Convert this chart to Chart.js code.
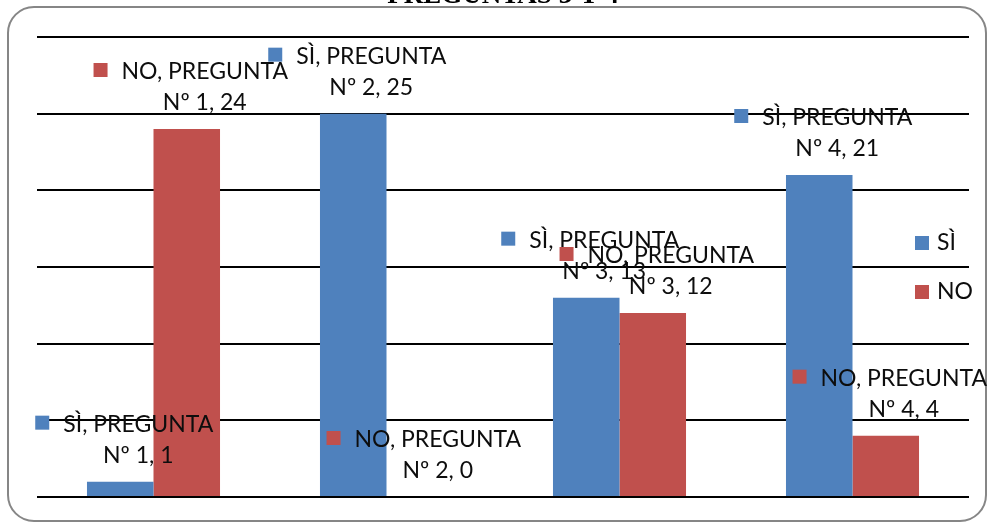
<!DOCTYPE html>
<html>
<head>
<meta charset="utf-8">
<script src="https://cdn.jsdelivr.net/npm/chart.js@4.4.1/dist/chart.umd.min.js"></script>
<style>
  html, body { margin: 0; padding: 0; background: #fff; }
  #wrap { position: relative; width: 988px; height: 523px; }
</style>
</head>
<body>
<div id="wrap"><canvas id="c" width="988" height="523"></canvas></div>
<script>
// ---- data ----
const categories = ["PREGUNTA Nº 1", "PREGUNTA Nº 2", "PREGUNTA Nº 3", "PREGUNTA Nº 4"];
const seriesNames = ["SÌ", "NO"];
const siValues = [1, 25, 13, 21];
const noValues = [24, 0, 12, 4];
const yTicks = [0, 5, 10, 15, 20, 25, 30];
const chartTitle = "PREGUNTAS 3 Y 4";

const colors = ["#4F81BD", "#C0504D"];
const labelFont = "23px Lato, 'Liberation Sans', sans-serif";

const framePlugin = {
  id: 'frame',
  beforeDraw(chart) {
    const ctx = chart.ctx;
    ctx.save();
    ctx.fillStyle = '#fff';
    ctx.fillRect(0, 0, chart.width, chart.height);
    ctx.strokeStyle = '#868686';
    ctx.lineWidth = 2;
    const x = 8, y = 7, w = 978, h = 514, r = 26;
    ctx.beginPath();
    ctx.moveTo(x + r, y);
    ctx.lineTo(x + w - r, y);
    ctx.arcTo(x + w, y, x + w, y + r, r);
    ctx.lineTo(x + w, y + h - r);
    ctx.arcTo(x + w, y + h, x + w - r, y + h, r);
    ctx.lineTo(x + r, y + h);
    ctx.arcTo(x, y + h, x, y + h - r, r);
    ctx.lineTo(x, y + r);
    ctx.arcTo(x, y, x + r, y, r);
    ctx.closePath();
    ctx.stroke();
    // title (mostly clipped at the top, as in the reference)
    ctx.fillStyle = '#000';
    ctx.font = "bold 27px 'Liberation Serif', serif";
    ctx.textAlign = 'center';
    ctx.textBaseline = 'alphabetic';
    const ca = chart.chartArea;
    ctx.fillText(chartTitle, (ca.left + ca.right) / 2, 3);
    ctx.restore();
  }
};

const labelPlugin = {
  id: 'barLabels',
  afterDatasetsDraw(chart) {
    const ctx = chart.ctx;
    ctx.save();
    ctx.font = labelFont;
    ctx.textBaseline = 'alphabetic';
    chart.data.datasets.forEach((ds, di) => {
      const meta = chart.getDatasetMeta(di);
      meta.data.forEach((bar, j) => {
        const line1 = ds.label + ", PREGUNTA";
        const line2 = categories[j].replace("PREGUNTA ", "") + ", " + ds.data[j];
        const w1 = ctx.measureText(line1).width;
        const keyW = 14, gap = 14;
        const blockW = keyW + gap + w1;
        const left = bar.x + 4 - blockW / 2;
        const base2 = bar.y - 19;
        const base1 = base2 - 31;
        ctx.fillStyle = ds.backgroundColor;
        ctx.fillRect(left, base1 - 16, keyW, keyW);
        ctx.fillStyle = '#0d0d0d';
        ctx.textAlign = 'left';
        const tl = left + keyW + gap;
        ctx.fillText(line1, tl, base1);
        ctx.textAlign = 'center';
        ctx.fillText(line2, tl + w1 / 2, base2);
      });
    });
    ctx.restore();
  }
};

const legendPlugin = {
  id: 'customLegend',
  afterDraw(chart) {
    const ctx = chart.ctx;
    ctx.save();
    ctx.font = labelFont;
    ctx.textBaseline = 'alphabetic';
    ctx.textAlign = 'left';
    chart.data.datasets.forEach((ds, i) => {
      const base = 250 + i * 49;
      ctx.fillStyle = ds.backgroundColor;
      ctx.fillRect(915, base - 14, 14, 14);
      ctx.fillStyle = '#0d0d0d';
      ctx.fillText(ds.label, 937, base);
    });
    ctx.restore();
  }
};

new Chart(document.getElementById('c'), {
  type: 'bar',
  data: {
    labels: categories,
    datasets: [
      { label: seriesNames[0], data: siValues, backgroundColor: colors[0], borderWidth: 0 },
      { label: seriesNames[1], data: noValues, backgroundColor: colors[1], borderWidth: 0 }
    ]
  },
  options: {
    responsive: false,
    animation: false,
    devicePixelRatio: 1,
    layout: { padding: { left: 37, right: 19, top: 37, bottom: 26 } },
    datasets: { bar: { categoryPercentage: 0.571, barPercentage: 1 } },
    plugins: { legend: { display: false }, title: { display: false }, tooltip: { enabled: false } },
    scales: {
      x: { display: false },
      y: {
        display: true,
        min: yTicks[0],
        max: yTicks[yTicks.length - 1],
        afterBuildTicks: (axis) => { axis.ticks = yTicks.map(v => ({ value: v })); },
        ticks: { display: false },
        border: { display: false },
        grid: { color: '#000', lineWidth: 2, drawTicks: false }
      }
    }
  },
  plugins: [framePlugin, labelPlugin, legendPlugin]
});
</script>
</body>
</html>
